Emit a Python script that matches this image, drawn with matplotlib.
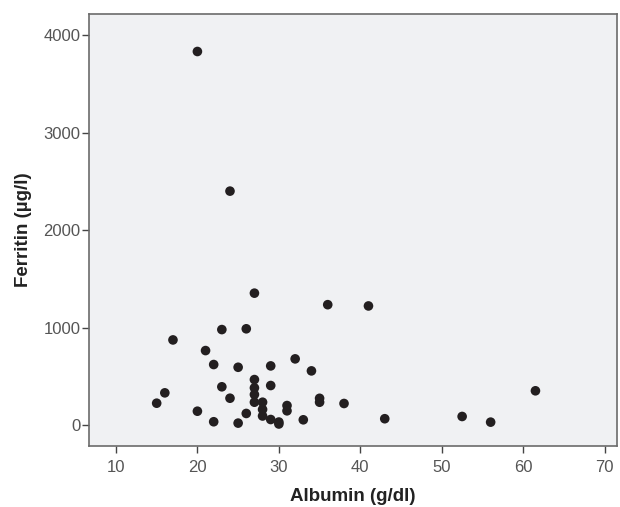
import matplotlib
matplotlib.use("Agg")
import matplotlib.pyplot as plt

# Albumin (g/dl) vs Ferritin (ug/l)
albumin = [20, 24, 27, 36, 41, 26, 17, 23, 21, 22, 25, 27, 27, 27, 27,
           23, 24, 16, 15, 20, 22, 25, 26, 29, 32, 34, 29, 28, 28, 28,
           29, 30, 30, 31, 31, 35, 35, 38, 33, 43, 52.5, 56, 61.5]
ferritin = [3830, 2400, 1355, 1237, 1224, 990, 876, 982, 767, 624, 596, 470, 385, 317, 238,
            396, 279, 334, 228, 146, 38, 24, 123, 610, 682, 559, 409, 238, 164, 97,
            61, 35, 15, 204, 150, 278, 238, 225, 58, 69, 92, 34, 355]

x_ticks = [10, 20, 30, 40, 50, 60, 70]
y_ticks = [0, 1000, 2000, 3000, 4000]

plt.rcParams["font.family"] = ["Liberation Sans", "DejaVu Sans"]

fig = plt.figure(figsize=(6.2, 5.07), dpi=100)
fig.patch.set_facecolor("white")
ax = fig.add_axes([0.143, 0.12, 0.852, 0.852])
ax.set_facecolor("#f0f1f3")

ax.scatter(albumin, ferritin, s=48, color="#231f20", edgecolors="none", zorder=3)

ax.set_xlim(6.65, 71.5)
ax.set_ylim(-212, 4212)
ax.set_xticks(x_ticks)
ax.set_yticks(y_ticks)

for side in ["top", "right", "bottom", "left"]:
    ax.spines[side].set_color("#6b6b6b")
    ax.spines[side].set_linewidth(1.2)

ax.tick_params(axis="both", direction="out", length=5, width=1, color="#444444",
               labelsize=12, labelcolor="#555555", pad=1)
ax.tick_params(axis="x", pad=5)

ax.set_xlabel("Albumin (g/dl)", fontsize=13.5, fontweight="bold", color="#222222", labelpad=9)
ax.set_ylabel("Ferritin (µg/l)", fontsize=13.5, fontweight="bold", color="#222222", labelpad=8)

fig.savefig("out.png", dpi=100, facecolor="white")
plt.close(fig)
